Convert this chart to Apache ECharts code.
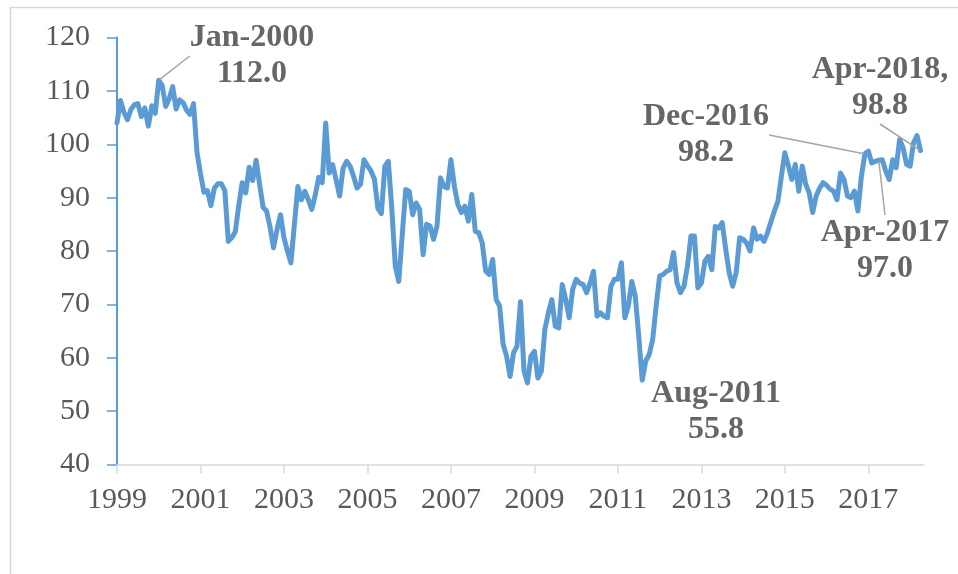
<!DOCTYPE html>
<html>
<head>
<meta charset="utf-8">
<script src="https://cdn.jsdelivr.net/npm/echarts@6/dist/echarts.min.js"></script>
<style>
  html, body { margin: 0; padding: 0; background: #fff; }
  #main { width: 958px; height: 574px; }
</style>
</head>
<body>
<div id="main"></div>
<script>
// monthly index, Jan-1999 .. Apr-2018
var indexValues = [
  104.0, 108.2, 106.0, 104.6, 106.5, 107.4, 107.6, 105.2, 106.8, 103.4, 107.2, 105.8, // 1999
  112.0, 111.0, 107.1, 108.5, 110.8, 106.6, 108.3, 107.8, 106.4, 105.6, 107.6, 98.5,  // 2000
  94.5, 91.0, 91.3, 88.5, 91.8, 92.6, 92.6, 91.3, 81.8, 82.5, 83.6, 88.5,             // 2001
  92.8, 90.9, 95.7, 93.2, 97.0, 92.5, 88.2, 87.5, 84.5, 80.6, 84.0, 86.8,             // 2002
  82.5, 80.0, 77.8, 85.0, 92.1, 89.6, 91.2, 89.6, 87.8, 90.5, 93.8, 92.8,             // 2003
  104.0, 94.6, 96.2, 93.3, 90.3, 95.5, 96.8, 95.9, 94.0, 91.8, 92.5, 97.1,            // 2004
  96.0, 95.0, 93.5, 88.0, 87.0, 95.9, 96.8, 88.0, 77.2, 74.3, 83.0, 91.5,             // 2005
  91.2, 86.8, 89.0, 87.8, 79.3, 85.0, 84.7, 82.2, 84.7, 93.7, 92.1, 91.8,             // 2006
  97.1, 92.1, 88.7, 87.2, 88.4, 85.6, 90.6, 83.7, 83.4, 81.5, 76.2, 75.6,             // 2007
  78.4, 70.9, 69.7, 62.5, 60.3, 56.5, 60.9, 62.2, 70.5, 57.6, 55.3, 60.3,             // 2008
  61.2, 56.2, 57.5, 65.3, 68.4, 70.9, 65.9, 65.6, 73.7, 70.9, 67.5, 72.8,             // 2009
  74.7, 74.0, 73.7, 72.2, 74.0, 76.2, 67.8, 68.4, 67.8, 67.5, 73.4, 74.7,             // 2010
  74.7, 77.8, 67.5, 69.7, 74.3, 71.5, 64.0, 55.8, 59.4, 60.6, 63.4, 69.7,             // 2011
  75.3, 75.6, 76.2, 76.5, 79.7, 74.0, 72.2, 73.4, 77.2, 82.8, 82.8, 73.1,             // 2012
  74.0, 78.1, 79.0, 76.5, 84.6, 84.3, 85.3, 80.3, 75.9, 73.4, 75.9, 82.5,             // 2013
  82.2, 81.5, 80.0, 84.3, 82.2, 82.8, 81.8, 83.4, 85.5, 87.5, 89.3, 94.0,             // 2014
  98.4, 96.0, 93.4, 96.2, 91.2, 95.9, 92.5, 90.9, 87.2, 90.3, 91.8, 92.8,             // 2015
  92.3, 91.6, 91.2, 89.6, 94.6, 93.4, 90.3, 90.0, 91.2, 87.5, 94.0, 98.2,             // 2016
  98.7, 96.5, 96.8, 97.0, 97.1, 95.0, 93.4, 97.1, 95.6, 100.9, 99.3, 96.2,            // 2017
  95.9, 100.3, 101.6, 98.8                                                            // 2018
];

var monthNames = ["Jan", "Feb", "Mar", "Apr", "May", "Jun", "Jul", "Aug", "Sep", "Oct", "Nov", "Dec"];
var firstYear = 1999;
var yTicks = [40, 50, 60, 70, 80, 90, 100, 110, 120];

// callouts: month label + text shown
var calloutMonths = ["Jan-2000", "Aug-2011", "Dec-2016", "Apr-2017", "Apr-2018"];
var calloutNames = ["Jan-2000", "Aug-2011", "Dec-2016", "Apr-2017", "Apr-2018,"];

// axis runs one month past the last value (to May-2018)
var months = [];
for (var i = 0; i <= indexValues.length; i++) {
  months.push(monthNames[i % 12] + "-" + (firstYear + Math.floor(i / 12)));
}

// where each callout text block sits (pixels), and whether it gets a leader line
var calloutPos = [
  { x: 252, y: 56, line: true },
  { x: 716, y: 412, line: false },
  { x: 706, y: 135, line: true },
  { x: 885, y: 251, line: true },
  { x: 880, y: 88, line: true }
];

var calloutData = calloutMonths.map(function (m, k) {
  var idx = months.indexOf(m);
  return {
    name: calloutNames[k],
    value: [idx, indexValues[idx]],
    labelLine: { show: calloutPos[k].line }
  };
});

var myChart = echarts.init(document.getElementById("main"));

myChart.setOption({
  animation: false,
  backgroundColor: "#fff",
  graphic: [
    {
      type: "rect",
      left: 8, top: 5,
      shape: { width: 1000, height: 620 },
      style: { fill: "none", stroke: "#D9D9D9", lineWidth: 1.5 },
      silent: true
    }
  ],
  grid: { left: 117, right: 34, top: 37.5, bottom: 109.5 },
  xAxis: {
    type: "category",
    data: months,
    boundaryGap: false,
    axisLine: { lineStyle: { color: "#D9D9D9", width: 1.5 } },
    axisTick: {
      show: true,
      length: 9,
      interval: function (index) { return index % 24 === 0; },
      lineStyle: { color: "#D9D9D9", width: 1.5 }
    },
    axisLabel: {
      interval: function (index) { return index % 24 === 0; },
      formatter: function (v) { return v.slice(4); },
      margin: 21,
      fontFamily: "Liberation Serif",
      fontSize: 30,
      color: "#595959"
    },
    splitLine: { show: false }
  },
  yAxis: {
    type: "value",
    min: yTicks[0],
    max: yTicks[yTicks.length - 1],
    interval: 10,
    axisLine: { show: true, lineStyle: { color: "#5B9BD5", width: 2 } },
    axisTick: { show: true, length: 10, lineStyle: { color: "#5B9BD5", width: 1.5 } },
    axisLabel: {
      margin: 27,
      fontFamily: "Liberation Serif",
      fontSize: 30,
      color: "#595959"
    },
    splitLine: { show: false }
  },
  series: [
    {
      type: "line",
      data: indexValues,
      showSymbol: false,
      symbol: "none",
      lineStyle: { color: "#5B9BD5", width: 5, cap: "round", join: "round" },
      z: 2
    },
    {
      type: "scatter",
      data: calloutData,
      symbolSize: 2,
      itemStyle: { color: "#5B9BD5" },
      z: 3,
      label: {
        show: true,
        formatter: function (p) { return p.name + "\n" + p.value[1].toFixed(1); },
        fontFamily: "Liberation Serif",
        fontWeight: "bold",
        fontSize: 32,
        lineHeight: 36,
        color: "#404040",
        align: "center"
      },
      labelLayout: function (params) {
        var pos = calloutPos[params.dataIndex];
        return { x: pos.x, y: pos.y, align: "center", verticalAlign: "middle" };
      },
      labelLine: {
        show: true,
        lineStyle: { color: "#A6A6A6", width: 1.5 }
      }
    }
  ]
});
</script>
</body>
</html>
